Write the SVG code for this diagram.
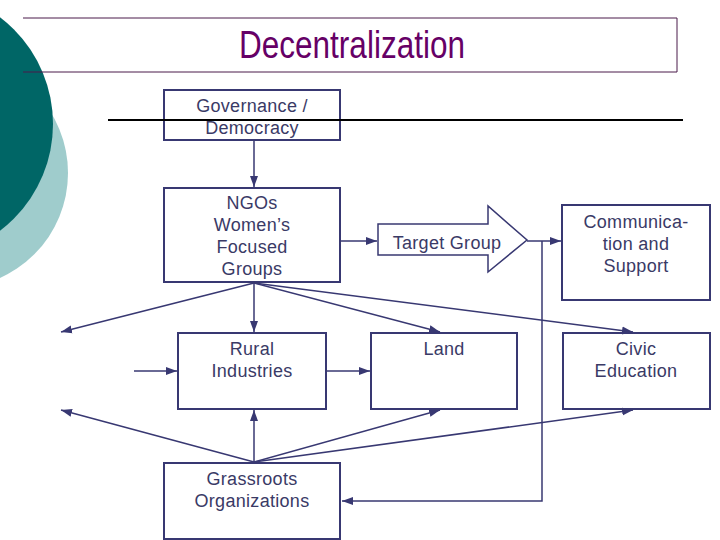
<svg xmlns="http://www.w3.org/2000/svg" width="720" height="540" viewBox="0 0 720 540">
<style>
.box{fill:none;stroke:#383872;stroke-width:2}
.lbl{font-family:"Liberation Sans",Arial,sans-serif;font-size:18px;letter-spacing:0.3px;fill:#3a3a66;text-anchor:middle}
.con{fill:none;stroke:#383872;stroke-width:1.5}
.frame{fill:none;stroke:#4a1a4a;stroke-width:1}
</style>
<defs>
<marker id="ah" markerUnits="userSpaceOnUse" markerWidth="12" markerHeight="10" refX="11" refY="5" orient="auto" viewBox="0 0 12 10">
<path d="M0,1 L11,5 L0,9 z" fill="#383872"/>
</marker>
</defs>
<rect width="720" height="540" fill="#ffffff"/>
<g id="decoration">
<circle cx="-47" cy="173" r="115" fill="#9fcccc"/>
<circle cx="-81" cy="124" r="134" fill="#006666"/>
</g>
<g id="title">
<path class="frame" d="M23,18 H677 V72 H23"/>
<text x="352" y="58" font-family="'Liberation Sans',Arial,sans-serif" font-size="38" fill="#660066" text-anchor="middle" textLength="226" lengthAdjust="spacingAndGlyphs">Decentralization</text>
</g>
<g id="governance">
<rect class="box" x="164" y="90" width="176" height="50"/>
<text class="lbl" x="252" y="112">Governance /</text>
<text class="lbl" x="252" y="134">Democracy</text>
</g>
<line x1="108" y1="120" x2="683" y2="120" stroke="#000" stroke-width="2"/>
<g id="ngos">
<rect class="box" x="164" y="188" width="176" height="94"/>
<text class="lbl" x="252" y="209">NGOs</text>
<text class="lbl" x="252" y="231">Women’s</text>
<text class="lbl" x="252" y="253">Focused</text>
<text class="lbl" x="252" y="275">Groups</text>
</g>
<g id="target-group">
<path d="M378,224 H488 V206 L527,240 L488,272 V255 H378 Z" fill="#ffffff" stroke="#383872" stroke-width="1.5"/>
<text class="lbl" x="447" y="249">Target Group</text>
</g>
<g id="communication">
<rect class="box" x="562" y="205" width="148" height="95"/>
<text class="lbl" x="636" y="228">Communica-</text>
<text class="lbl" x="636" y="250">tion and</text>
<text class="lbl" x="636" y="272">Support</text>
</g>
<g id="rural">
<rect class="box" x="178" y="333" width="148" height="76"/>
<text class="lbl" x="252" y="355">Rural</text>
<text class="lbl" x="252" y="377">Industries</text>
</g>
<g id="land">
<rect class="box" x="371" y="333" width="146" height="76"/>
<text class="lbl" x="444" y="355">Land</text>
</g>
<g id="civic">
<rect class="box" x="563" y="333" width="147" height="76"/>
<text class="lbl" x="636" y="355">Civic</text>
<text class="lbl" x="636" y="377">Education</text>
</g>
<g id="grassroots">
<rect class="box" x="164" y="463" width="176" height="76"/>
<text class="lbl" x="252" y="485">Grassroots</text>
<text class="lbl" x="252" y="507">Organizations</text>
</g>
<g id="connectors">
<line class="con" x1="254" y1="141" x2="254" y2="187" marker-end="url(#ah)"/>
<line class="con" x1="341" y1="241" x2="377" y2="241" marker-end="url(#ah)"/>
<line class="con" x1="527" y1="241" x2="561" y2="241" marker-end="url(#ah)"/>
<polyline class="con" points="542,241 542,501 342,501" marker-end="url(#ah)"/>
<line class="con" x1="254" y1="283" x2="61" y2="332" marker-end="url(#ah)"/>
<line class="con" x1="254" y1="283" x2="254" y2="332" marker-end="url(#ah)"/>
<line class="con" x1="254" y1="283" x2="440" y2="332" marker-end="url(#ah)"/>
<line class="con" x1="254" y1="283" x2="633" y2="332" marker-end="url(#ah)"/>
<line class="con" x1="134" y1="371" x2="177" y2="371" marker-end="url(#ah)"/>
<line class="con" x1="327" y1="371" x2="370" y2="371" marker-end="url(#ah)"/>
<line class="con" x1="254" y1="462" x2="61" y2="410" marker-end="url(#ah)"/>
<line class="con" x1="254" y1="462" x2="254" y2="410" marker-end="url(#ah)"/>
<line class="con" x1="254" y1="462" x2="440" y2="410" marker-end="url(#ah)"/>
<line class="con" x1="254" y1="462" x2="633" y2="410" marker-end="url(#ah)"/>
</g>
</svg>
